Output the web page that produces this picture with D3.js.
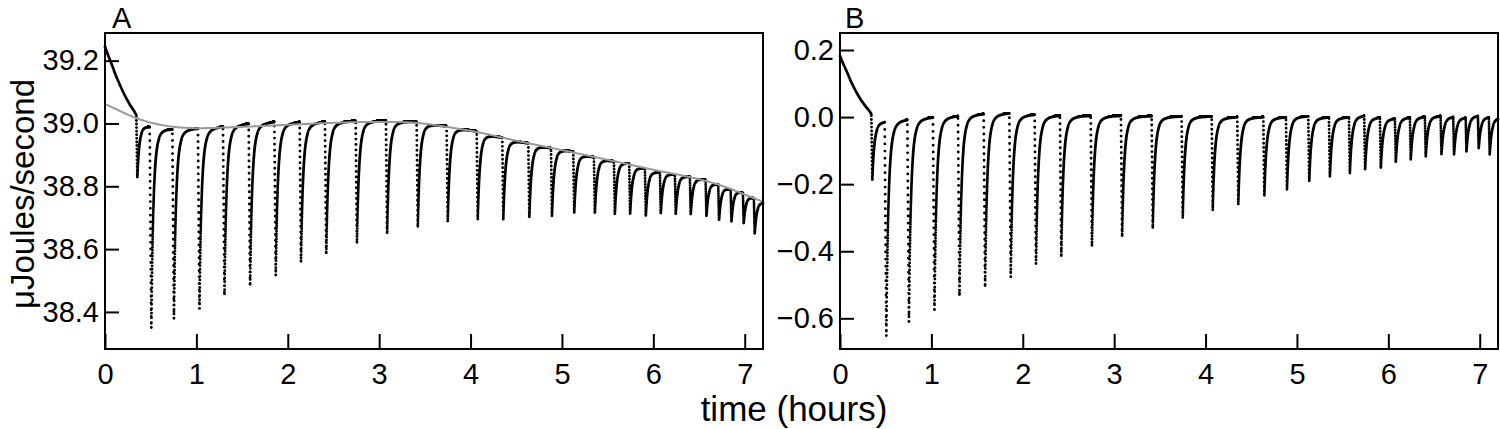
<!DOCTYPE html>
<html><head><meta charset="utf-8">
<script src="https://cdn.jsdelivr.net/npm/d3@7"></script>
<style>
body{margin:0;background:#fff;overflow:hidden}
svg{display:block}
text{font-family:"Liberation Sans",Arial,Helvetica,sans-serif;fill:#000}
</style>
</head><body>
<svg id="chart" width="1500" height="429"></svg>
<script>
// ---------- data ----------
// injection times (hours)
const injTimes = [0.343,0.489,0.737,1.017,1.291,1.572,1.853,2.130,2.407,2.743,3.074,3.410,3.738,4.067,4.347,4.632,4.880,5.124,5.350,5.569,5.736,5.908,6.072,6.236,6.400,6.572,6.710,6.846,6.980,7.100];
// peak minima of the baseline-subtracted trace (panel B, µJ/s)
const peakMinB = [-0.187,-0.655,-0.610,-0.575,-0.535,-0.508,-0.478,-0.443,-0.418,-0.388,-0.356,-0.333,-0.304,-0.277,-0.259,-0.237,-0.217,-0.192,-0.179,-0.167,-0.157,-0.152,-0.135,-0.127,-0.118,-0.112,-0.112,-0.103,-0.093,-0.112];
// level each peak recovers to (panel B)
const plateauB = [-0.012,-0.006,0.000,0.004,0.010,0.012,0.008,0.005,0.004,0.004,0.003,0.002,0.002,0.000,0.000,0.000,0.003,0.000,0.000,0.005,0.000,-0.003,0.000,0.002,0.004,0.002,0.000,0.005,0.002,0.000];
// initial equilibration before first injection (panel B)
const initTimes = [0,0.04,0.08,0.12,0.16,0.20,0.24,0.28,0.32,0.343];
const initValsB = [0.182,0.155,0.131,0.105,0.083,0.063,0.046,0.031,0.018,0.008];
// fitted baseline (grey curve, panel A)
const baseTimes = [0,0.38,0.68,1.04,1.4,1.95,2.5,3.0,3.4,3.74,4.1,4.47,5.2,5.93,6.66,7.2];
const baseVals  = [39.062,39.013,38.992,38.985,38.988,38.995,39.002,39.005,39.002,38.989,38.971,38.947,38.903,38.857,38.81,38.751];
// axis ticks
const xTicks = [0,1,2,3,4,5,6,7];
const yTicksA = [38.4,38.6,38.8,39.0,39.2];
const yTicksB = [-0.6,-0.4,-0.2,0.0,0.2];

// ---------- helpers ----------
function monotone(xs, ys){
  const n = xs.length, d = [], m = [];
  for(let i=0;i<n-1;i++) d.push((ys[i+1]-ys[i])/(xs[i+1]-xs[i]));
  m[0]=d[0]; m[n-1]=d[n-2];
  for(let i=1;i<n-1;i++) m[i] = d[i-1]*d[i]<=0 ? 0 : (d[i-1]+d[i])/2;
  for(let i=0;i<n-1;i++){
    if(d[i]===0){m[i]=0;m[i+1]=0;continue;}
    const a=m[i]/d[i], b=m[i+1]/d[i], s=a*a+b*b;
    if(s>9){const t=3/Math.sqrt(s); m[i]=t*a*d[i]; m[i+1]=t*b*d[i];}
  }
  return function(x){
    let i = d3.bisectRight(xs, x)-1;
    i = Math.max(0, Math.min(n-2, i));
    const h = xs[i+1]-xs[i], t=(x-xs[i])/h, t2=t*t, t3=t2*t;
    return (2*t3-3*t2+1)*ys[i] + (t3-2*t2+t)*h*m[i] + (-2*t3+3*t2)*ys[i+1] + (t3-t2)*h*m[i+1];
  };
}
const initFn = monotone(initTimes, initValsB);
const baseFn = monotone(baseTimes, baseVals);

const dt = 0.0006, tEnd = 7.2;
const tauFast = 0.022, tauSlow = 0.065, wFast = 0.85;
function segVal(i, s, start){
  const mn = peakMinB[i], pl = plateauB[i];
  const dd = 0.007 + 0.017*Math.abs(mn-start);
  if(s < dd) return start + (mn-start)*(s/dd);
  const u = s-dd;
  return pl + (mn-pl)*(wFast*Math.exp(-u/tauFast) + (1-wFast)*Math.exp(-u/tauSlow));
}
const starts = [];
starts[0] = initFn(injTimes[0]);
for(let i=1;i<injTimes.length;i++) starts[i] = segVal(i-1, injTimes[i]-injTimes[i-1], starts[i-1]);
function bAt(t){
  if(t < injTimes[0]) return initFn(t);
  const i = d3.bisectRight(injTimes, t)-1;
  return segVal(i, t-injTimes[i], starts[i]);
}
const samples = [];
for(let k=0; k*dt<=tEnd; k++){
  const t = k*dt, b = bAt(t);
  samples.push({t, b, a: baseFn(t)+b});
}

// ---------- drawing ----------
const svg = d3.select('#chart');
const plotTop = 33, plotBottom = 349;
const panels = [
  {key:'a', label:'A', x0:105, x1:763, yDom:[38.282,39.288], ticks:yTicksA, lx:112, ly:28},
  {key:'b', label:'B', x0:840, x1:1498, yDom:[-0.6915,0.2507], ticks:yTicksB, lx:845, ly:28}
];
panels.forEach(p=>{
  const x = d3.scaleLinear().domain([0,7.2]).range([p.x0,p.x1]);
  const y = d3.scaleLinear().domain(p.yDom).range([plotBottom,plotTop]);
  const g = svg.append('g');
  const path = samples.map(d=>`M${x(d.t).toFixed(2)},${y(d[p.key]).toFixed(2)}h0`).join('');
  g.append('path').attr('d',path).attr('fill','none').attr('stroke','#000')
    .attr('stroke-width',2.9).attr('stroke-linecap','round');
  if(p.key==='a'){
    const bl = d3.range(0,7.2001,0.01).map(t=>[t, baseFn(t)]);
    g.append('path').attr('d', d3.line().x(d=>x(d[0])).y(d=>y(d[1]))(bl))
      .attr('fill','none').attr('stroke','#999').attr('stroke-width',2);
  }
  const xa = g.append('g').attr('transform',`translate(0,${plotBottom})`)
    .call(d3.axisBottom(x).tickValues(xTicks).tickSizeInner(-15).tickSizeOuter(0).tickPadding(14).tickFormat(d3.format('d')));
  const ya = g.append('g').attr('transform',`translate(${p.x0},0)`)
    .call(d3.axisLeft(y).tickValues(p.ticks).tickSizeInner(-14).tickSizeOuter(0).tickPadding(6).tickFormat(d3.format('.1f')));
  [xa,ya].forEach(a=>{
    a.select('.domain').remove();
    a.selectAll('line').attr('stroke','#000').attr('stroke-width',2);
    a.selectAll('text').attr('font-size',29).attr('font-family','"Liberation Sans",Arial,sans-serif').attr('fill','#000');
  });
  g.append('rect').attr('x',p.x0).attr('y',plotTop).attr('width',p.x1-p.x0).attr('height',plotBottom-plotTop)
    .attr('fill','none').attr('stroke','#000').attr('stroke-width',2);
  g.append('text').attr('x',p.lx).attr('y',p.ly).attr('font-size',29).text(p.label);
});
svg.append('text').attr('x',794).attr('y',421).attr('text-anchor','middle').attr('font-size',35).text('time (hours)');
svg.append('text').attr('transform','translate(34,194) rotate(-90)').attr('text-anchor','middle').attr('font-size',33).text('μJoules/second');
</script>
</body></html>
